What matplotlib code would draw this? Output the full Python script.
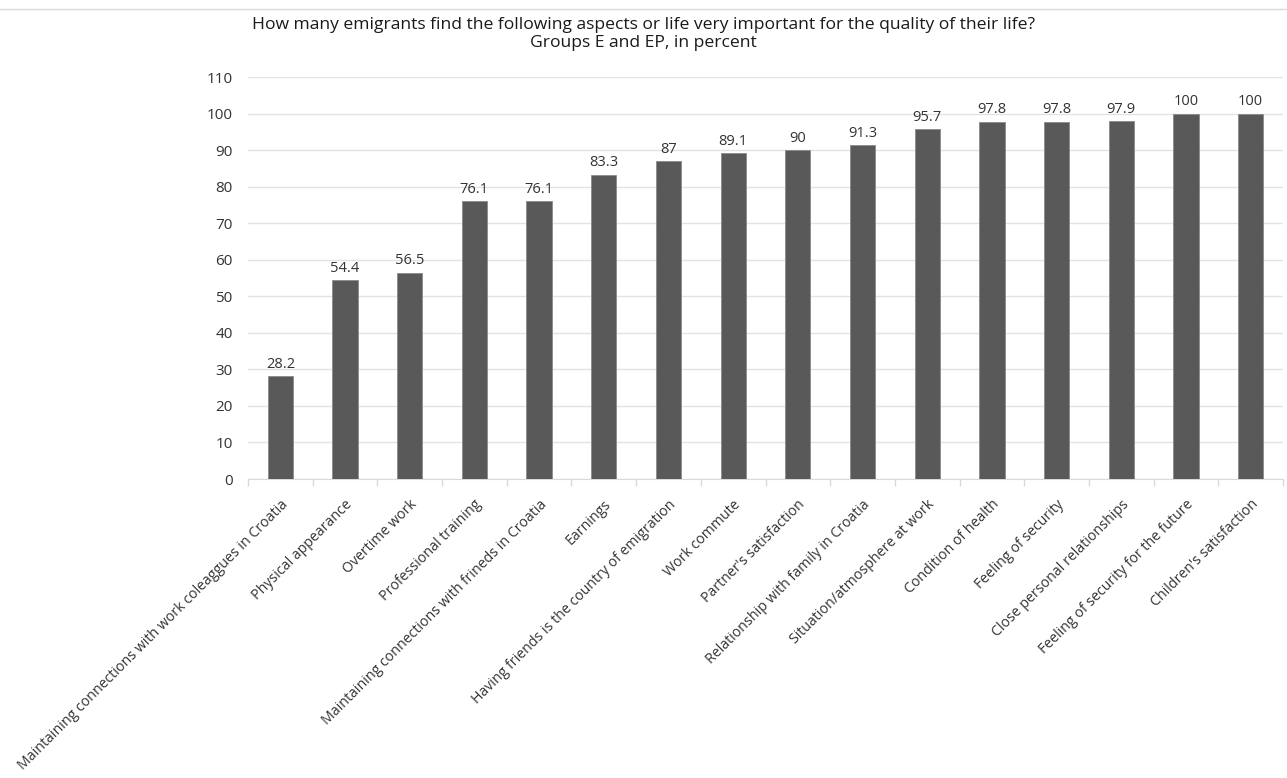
import matplotlib.pyplot as plt
import numpy as np

categories = [
    "Maintaining connections with work coleaggues in Croatia",
    "Physical appearance",
    "Overtime work",
    "Professional training",
    "Maintaining connections with frineds in Croatia",
    "Earnings",
    "Having friends is the country of emigration",
    "Work commute",
    "Partner's satisfaction",
    "Relationship with family in Croatia",
    "Situation/atmosphere at work",
    "Condition of health",
    "Feeling of security",
    "Close personal relationships",
    "Feeling of security for the future",
    "Children's satisfaction",
]
percent = [28.2, 54.4, 56.5, 76.1, 76.1, 83.3, 87, 89.1, 90, 91.3, 95.7, 97.8, 97.8, 97.9, 100, 100]
y_ticks = list(range(0, 111, 10))

TITLE = ("How many emigrants find the following aspects or life very important for the quality of their life?\n"
         "Groups E and EP, in percent")

plt.rcParams["font.family"] = ["Open Sans", "DejaVu Sans"]

fig = plt.figure(figsize=(12.87, 7.78), dpi=100)
ax = fig.add_axes([0.1927, 0.3843, 0.8042, 0.5167])

x = np.arange(len(categories))
ax.bar(x, percent, width=0.39, color="#595959", edgecolor="#8a8a8a", linewidth=0.6, zorder=3)

for xi, val in zip(x, percent):
    ax.annotate(f"{val:g}", (xi, val), xytext=(0, 3), textcoords="offset points",
                ha="center", va="bottom", fontsize=10.5, color="#333333")

ax.set_xlim(-0.5, len(categories) - 0.5)
ax.set_ylim(0, 110)
ax.set_yticks(y_ticks)
ax.tick_params(axis="y", length=0, labelsize=11, labelcolor="#333333", pad=11)
ax.grid(axis="y", color="#e3e3e3", linewidth=1, zorder=0)

ax.set_xticks(x)
ax.set_xticklabels(categories, rotation=45, ha="right", rotation_mode="anchor",
                   fontsize=10.2, color="#333333")
ax.tick_params(axis="x", which="major", length=0, pad=13)
# category separators below the axis line
ax.set_xticks(np.arange(-0.5, len(categories), 1.0), minor=True)
ax.tick_params(axis="x", which="minor", length=5, color="#d9d9d9", width=1)

for side in ("top", "right", "left"):
    ax.spines[side].set_visible(False)
ax.spines["bottom"].set_color("#d9d9d9")

# thin frame line along the top edge
fig.add_artist(plt.Line2D([0, 1], [0.9885, 0.9885], color="#d9d9d9", linewidth=1))

fig.text(0.5, 0.978, TITLE, ha="center", va="top", fontsize=12.6, color="#1a1a1a",
         linespacing=1.15)

fig.savefig("out.png", dpi=100)
